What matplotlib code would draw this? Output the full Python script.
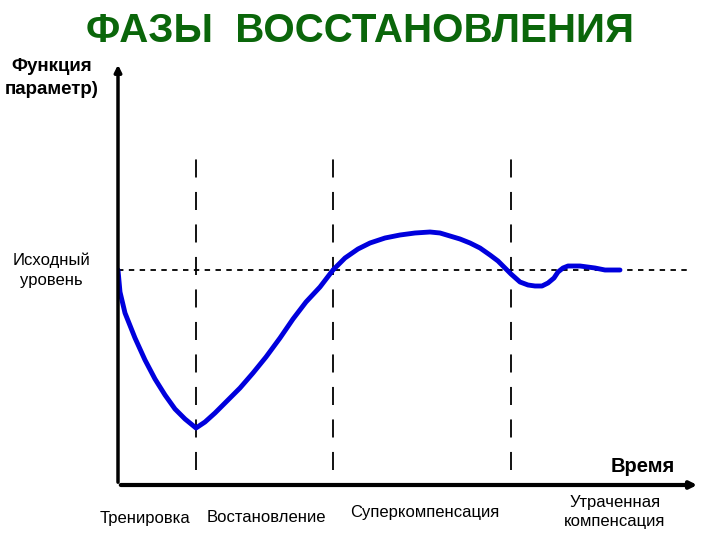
import matplotlib
matplotlib.use("Agg")
import matplotlib.pyplot as plt

plt.rcParams['font.family'] = ['Liberation Sans', 'DejaVu Sans']

# curve of the function (time, level)
t = [0, 2, 7, 17, 27, 37, 47, 57, 67, 78, 87, 97, 110, 122, 135, 148, 162, 175,
     188, 202, 215, 227, 240, 252, 267, 282, 297, 312, 322, 332, 342, 352, 362,
     372, 380, 387, 393, 402, 410, 417, 424, 430, 436, 440, 445, 450, 462, 477, 487, 502]
level = [215, 193, 172, 147, 125, 106, 90, 76, 66, 57, 63, 72, 85, 97, 112, 128,
         147, 166, 183, 198, 215, 227, 236, 242, 247, 250, 252, 253, 252, 249, 246,
         242, 237, 230, 224, 217, 211, 203, 200, 199, 199, 202, 207, 213, 217, 219,
         219, 217, 215, 215]
base_level = 215
phase_bounds = [78, 215, 393]
phases = ["Тренировка", "Востановление", "Суперкомпенсация", "Утраченная\nкомпенсация"]

fig = plt.figure(figsize=(7.2, 5.4), dpi=100)
ax = fig.add_axes([118 / 720, 55 / 540, 582 / 720, 423 / 540])
ax.set_xlim(0, 582)
ax.set_ylim(0, 423)
ax.axis('off')

# axes with arrows
ax.annotate('', xy=(0, 423), xytext=(0, 0),
            arrowprops=dict(arrowstyle='-|>', color='black', lw=2.5, mutation_scale=10))
ax.annotate('', xy=(582, 0), xytext=(0, 0),
            arrowprops=dict(arrowstyle='-|>', color='black', lw=3, mutation_scale=10))

ax.plot([0, 572], [base_level, base_level], color='black', lw=1.3, ls=(0, (3, 3)))
for b in phase_bounds:
    ax.plot([b, b], [15, 330], color='black', lw=1.3, ls=(0, (10, 8)))

ax.plot(t, level, color='#0000dd', lw=3.5, solid_joinstyle='round', solid_capstyle='round')

fig.text(360 / 720, 1 - 31 / 540, "ФАЗЫ  ВОССТАНОВЛЕНИЯ", ha='center', va='center',
         fontsize=29, fontweight='bold', color='#0a660a')
fig.text(52 / 720, 1 - 78 / 540, "Функция\nпараметр)", ha='center', va='center',
         fontsize=13.5, fontweight='bold', linespacing=1.45)
fig.text(51 / 720, 1 - 270 / 540, "Исходный\nуровень", ha='center', va='center',
         fontsize=12, linespacing=1.45)
fig.text(643 / 720, 1 - 467 / 540, "Время", ha='center', va='center',
         fontsize=14.5, fontweight='bold')

label_x = [145, 266, 425, 615]
label_y = [518, 518, 512, 512]
for name, lx, ly in zip(phases, label_x, label_y):
    fig.text(lx / 720, 1 - ly / 540, name, ha='center', va='center',
             fontsize=12, linespacing=1.35)

fig.savefig('out.png', dpi=100)
